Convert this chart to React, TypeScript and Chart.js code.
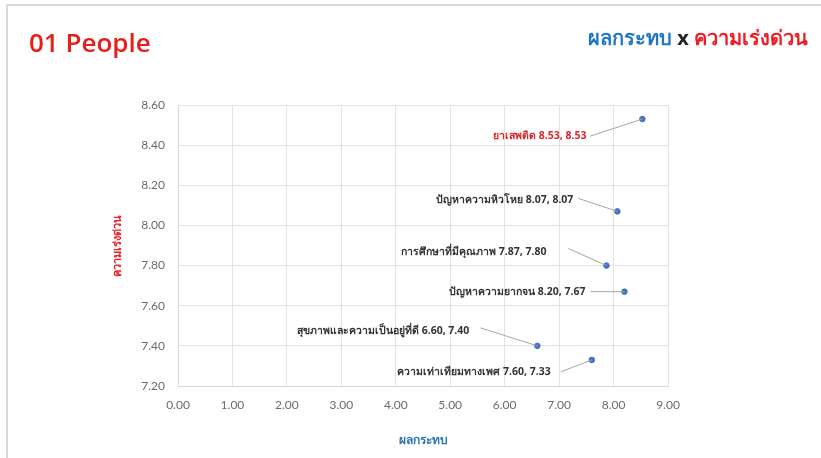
import React, { useEffect, useRef } from "react";
import { Chart, registerables } from "chart.js";

Chart.register(...registerables);

// ---- data ----
const names = [
  "ยาเสพติด",
  "ปัญหาความหิวโหย",
  "การศึกษาที่มีคุณภาพ",
  "ปัญหาความยากจน",
  "สุขภาพและความเป็นอยู่ที่ดี",
  "ความเท่าเทียมทางเพศ",
];
const impact = [8.53, 8.07, 7.87, 8.2, 6.6, 7.6]; // ผลกระทบ (x)
const urgency = [8.53, 8.07, 7.8, 7.67, 7.4, 7.33]; // ความเร่งด่วน (y)
const xTicks = [0, 1, 2, 3, 4, 5, 6, 7, 8, 9];
const yTicks = [7.2, 7.4, 7.6, 7.8, 8.0, 8.2, 8.4, 8.6];

// ---- label layout (pixel offsets from each point) ----
const labelOffsets = [
  [-56, 17],
  [-44, -11],
  [-60, -14],
  [-39, 0],
  [-68, -15],
  [-41, 12],
];
const leaderStarts = [
  [-52, 17],
  [-39, -13],
  [-38, -17],
  [-34, 0],
  [-57, -18],
  [-31, 12],
];
const labelColors = ["#d9262b", "#333333", "#333333", "#333333", "#333333", "#333333"];

const fmt = (v: number) => v.toFixed(2);

const labelPlugin = {
  id: "pointLabels",
  afterDatasetsDraw(chart: any) {
    const ctx = chart.ctx;
    const meta = chart.getDatasetMeta(0);
    ctx.save();
    meta.data.forEach((pt: any, i: number) => {
      const px = pt.x;
      const py = pt.y;
      const [lx, ly] = leaderStarts[i];
      ctx.strokeStyle = "#a6a6a6";
      ctx.lineWidth = 1;
      ctx.beginPath();
      ctx.moveTo(px + lx, py + ly);
      ctx.lineTo(px, py);
      ctx.stroke();
      const [dx, dy] = labelOffsets[i];
      ctx.font = "bold 10.5px 'Noto Sans', 'DejaVu Sans', sans-serif";
      ctx.fillStyle = labelColors[i];
      ctx.textAlign = "right";
      ctx.textBaseline = "middle";
      ctx.fillText(`${names[i]} ${fmt(impact[i])}, ${fmt(urgency[i])}`, px + dx, py + dy);
    });
    ctx.restore();
  },
};

export default function App() {
  const ref = useRef<HTMLCanvasElement | null>(null);

  useEffect(() => {
    if (!ref.current) return;
    const chart = new Chart(ref.current, {
      type: "scatter",
      data: {
        datasets: [
          {
            data: impact.map((x, i) => ({ x, y: urgency[i] })),
            backgroundColor: "#4472c4",
            borderColor: "#4472c4",
            pointRadius: 2.8,
            pointHoverRadius: 2.8,
          },
        ],
      },
      options: {
        animation: false,
        responsive: false,
        maintainAspectRatio: false,
        layout: { padding: { left: 100, top: 105, right: 153, bottom: 10 } },
        plugins: { legend: { display: false }, tooltip: { enabled: false } },
        scales: {
          x: {
            type: "linear",
            min: 0,
            max: 9,
            afterBuildTicks: (s: any) => {
              s.ticks = xTicks.map((v) => ({ value: v }));
            },
            afterFit: (s: any) => {
              s.height = 62;
            },
            grid: { color: "#e3e3e3", drawTicks: false },
            border: { display: true, color: "#d9d9d9" },
            ticks: {
              padding: 12,
              color: "#6b6b6b",
              font: { family: "Lato, 'Liberation Sans', sans-serif", size: 12 },
              callback: (v: any) => Number(v).toFixed(2),
            },
            title: {
              display: true,
              text: "ผลกระทบ",
              color: "#2e75b6",
              font: { family: "'Noto Sans', sans-serif", size: 12, weight: "bold" },
              padding: { top: 0, bottom: 0 },
            },
          },
          y: {
            type: "linear",
            min: 7.2,
            max: 8.6,
            afterBuildTicks: (s: any) => {
              s.ticks = yTicks.map((v) => ({ value: v }));
            },
            afterFit: (s: any) => {
              s.width = 78;
            },
            grid: { color: "#e3e3e3", drawTicks: false },
            border: { display: true, color: "#d9d9d9" },
            ticks: {
              padding: 13,
              color: "#6b6b6b",
              font: { family: "Lato, 'Liberation Sans', sans-serif", size: 12 },
              callback: (v: any) => Number(v).toFixed(2),
            },
            title: {
              display: true,
              text: "ความเร่งด่วน",
              color: "#e8202a",
              font: { family: "'Noto Sans', sans-serif", size: 11, weight: "bold" },
              padding: { top: 11, bottom: 0 },
            },
          },
        },
      },
      plugins: [labelPlugin],
    });
    return () => chart.destroy();
  }, []);

  return (
    <div
      style={{
        position: "fixed",
        left: 0,
        top: 0,
        width: 821,
        height: 458,
        background: "#ffffff",
        overflow: "hidden",
      }}
    >
      <div
        style={{
          position: "absolute",
          left: 6,
          top: 4,
          right: 0,
          bottom: 0,
          borderTop: "2px solid #d9d9d9",
          borderLeft: "2px solid #d9d9d9",
        }}
      />
      <canvas ref={ref} width={821} height={458} style={{ position: "absolute", left: 0, top: 0 }} />
      <div
        style={{
          position: "absolute",
          left: 29,
          top: 25,
          fontFamily: "'Open Sans', 'Liberation Sans', sans-serif",
          fontWeight: 600,
          fontSize: 26,
          color: "#e3201b",
          lineHeight: "34px",
          whiteSpace: "nowrap",
        }}
      >
        01 People
      </div>
      <div
        style={{
          position: "absolute",
          right: 13,
          top: 24,
          fontFamily: "'Noto Sans', sans-serif",
          fontWeight: "bold",
          fontSize: 20,
          lineHeight: "28px",
          whiteSpace: "nowrap",
        }}
      >
        <span style={{ color: "#1f77c4" }}>ผลกระทบ</span>
        <span style={{ color: "#222222" }}> x </span>
        <span style={{ color: "#ee1c25" }}>ความเร่งด่วน</span>
      </div>
    </div>
  );
}
